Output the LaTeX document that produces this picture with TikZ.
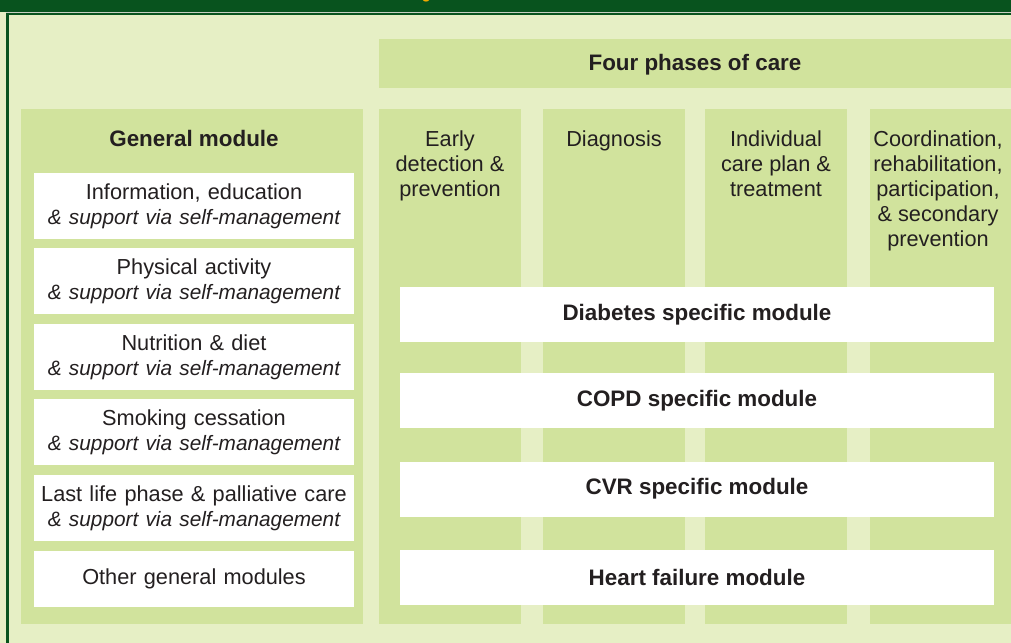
\documentclass[tikz,border=0pt]{standalone}
\usepackage{fontspec}
\setmainfont{Liberation Sans}
\usetikzlibrary{positioning}

\definecolor{darkgreen}{HTML}{08531E}
\definecolor{palegreen}{HTML}{E6EFC5}
\definecolor{midgreen}{HTML}{D1E39D}
\definecolor{inkgrey}{HTML}{231F20}
\definecolor{rulegrey}{HTML}{C9CFC2}
\definecolor{titleyellow}{HTML}{F2A900}

\newcommand{\selfsupport}{{\fontsize{15.6}{18.75}\selectfont\itshape \& support via self-management}}

\tikzset{
	every node/.style={text=inkgrey, font=\fontsize{16.3}{18.75}\selectfont},
	boldtext/.style={font=\fontsize{16.8}{18.75}\selectfont\bfseries},
	modbox/.style={fill=white, align=center, inner sep=0pt, text width=240pt, minimum height=49.5pt},
	diseasebox/.style={fill=white, align=center, inner sep=0pt, minimum width=445.5pt, minimum height=41.25pt, boldtext},
	phasetext/.style={align=center, inner sep=0pt, anchor=north}
}

\begin{document}
\begin{tikzpicture}[x=0.75pt, y=-0.75pt]
		 \useasboundingbox (0,0) rectangle (1011,643);

	     % frame %
		 \fill[palegreen] (0,0) rectangle (1011,643);
		 \fill[darkgreen] (0,0) rectangle (1011,12);
		 \fill[titleyellow] (426,0) ellipse (3 and 1.6);
		 \fill[rulegrey] (6,12) rectangle (1011,13);
		 \fill[darkgreen] (6,13) rectangle (1011,15);
		 \fill[darkgreen] (6,13) rectangle (9,643);

	     % panels %
		 \fill[midgreen] (379,39) rectangle (1011,88);
		 \fill[midgreen] (21,109) rectangle (363,624);
		 \fill[midgreen] (379,109) rectangle (521,624);
		 \fill[midgreen] (543,109) rectangle (685,624);
		 \fill[midgreen] (705,109) rectangle (847,624);
		 \fill[midgreen] (870,109) rectangle (1011,624);

	     % nodes %
		 \node[boldtext] (phases) at (695,64.5) {Four phases of care};
		 \node[phasetext, boldtext] (general) at (194,129.5) {General module};
		 \node[phasetext] (early) at (450,130) {Early\\detection \&\\prevention};
		 \node[phasetext] (diagnosis) at (614,130) {Diagnosis};
		 \node[phasetext] (careplan) at (776,130) {Individual\\care plan \&\\treatment};
		 \node[phasetext] (coordination) at (938,130) {Coordination,\\rehabilitation,\\participation,\\\& secondary\\prevention};

		 \node[modbox] (info) at (194,206) {Information, education\\\selfsupport};
		 \node[modbox, below of = info, node distance=56.6pt] (activity) {Physical activity\\\selfsupport};
		 \node[modbox, below of = activity, node distance=56.6pt] (nutrition) {Nutrition \& diet\\\selfsupport};
		 \node[modbox, below of = nutrition, node distance=56.6pt] (smoking) {Smoking cessation\\\selfsupport};
		 \node[modbox, below of = smoking, node distance=56.6pt] (palliative) {Last life phase \& palliative care\\\selfsupport};
		 \node[modbox, below of = palliative, node distance=53.2pt, minimum height=42pt] (other) {Other general modules};

		 \node[diseasebox] (diabetes) at (697,314.5) {Diabetes specific module};
		 \node[diseasebox, below of = diabetes, node distance=64.5pt] (copd) {COPD specific module};
		 \node[diseasebox, below of = copd, node distance=66.4pt] (cvr) {CVR specific module};
		 \node[diseasebox, below of = cvr, node distance=66pt] (heart) {Heart failure module};
	     \end{tikzpicture}
\end{document}
